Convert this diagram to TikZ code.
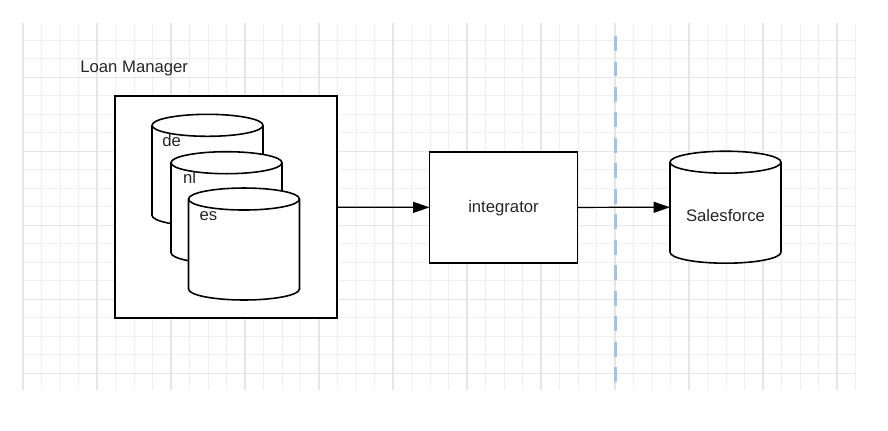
\documentclass[tikz,border=0pt]{standalone}
\usepackage{fontspec}
\setmainfont{Liberation Sans}
\usetikzlibrary{arrows.meta, positioning}

\definecolor{gridlight}{HTML}{F0F0F0}
\definecolor{griddark}{HTML}{E6E6E6}
\definecolor{sepblue}{HTML}{9FC4E7}
\definecolor{inktext}{HTML}{262626}

% outline of a database drum over a named node
\newcommand{\drawdb}[1]{%
    \path[fill=white, draw, line width=0.9pt]
        ([yshift=-0.22cm]#1.north west) -- ([yshift=0.22cm]#1.south west)
        arc[start angle=180, end angle=360, x radius=1.11cm, y radius=0.22cm]
        -- ([yshift=-0.22cm]#1.north east)
        arc[start angle=0, end angle=180, x radius=1.11cm, y radius=0.22cm] -- cycle;
    \draw[line width=0.9pt] ([yshift=-0.22cm]#1.north west)
        arc[start angle=180, end angle=360, x radius=1.11cm, y radius=0.22cm];}

\begin{document}
\begin{tikzpicture}[x=0.02cm, y=-0.02cm,
    gridminor/.style={gridlight, line width=0.5pt},
    gridmajor/.style={griddark, line width=0.7pt},
    dbcyl/.style={rectangle, minimum width=2.22cm, minimum height=2.24cm, inner sep=0pt, outer sep=0pt},
    procbox/.style={rectangle, draw, fill=white, line width=1pt, inner sep=0pt, outer sep=0pt},
    plainlbl/.style={font=\fontsize{9.5}{11}\selectfont, text=inktext, inner sep=0pt},
    flowarrow/.style={line width=0.7pt, -{Triangle[length=0.33cm, width=0.22cm]}},
    zonesep/.style={sepblue, line width=1.7pt, dash pattern=on 0.3cm off 0.21cm}]
    \useasboundingbox (0,0) rectangle (888,430);

    % grid paper
    \foreach \i in {0,...,45}
        \draw[gridminor] ({23+18.5*\i},23) -- ({23+18.5*\i},390);
    \foreach \k in {-2,...,16}
        \draw[gridminor] (23,{77.3+18.5*\k}) -- (855,{77.3+18.5*\k});
    \foreach \i in {0,...,11}
        \draw[gridmajor] ({23+74*\i},23) -- ({23+74*\i},390);
    \foreach \k in {0,...,4}
        \draw[gridmajor] (23,{77.3+74*\k}) -- (855,{77.3+74*\k});

    % Loan Manager with its three stores
    \node[plainlbl, anchor=base west] (lmtitle) at (80,72.3) {Loan Manager};
    \node[procbox, minimum width=4.44cm, minimum height=4.44cm] (lm) at (226,207) {};
    \node[dbcyl] (de) at (207.5,170.3) {};
    \drawdb{de}
    \node[plainlbl, anchor=base west] (delbl) at (162,146) {de};
    \node[dbcyl] (nl) at (226.5,207.7) {};
    \drawdb{nl}
    \node[plainlbl, anchor=base west] (nllbl) at (182.7,183) {nl};
    \node[dbcyl] (es) at (244,244) {};
    \drawdb{es}
    \node[plainlbl, anchor=base west] (eslbl) at (199.3,220) {es};

    % integrator
    \node[procbox, plainlbl, minimum width=2.96cm, minimum height=2.21cm, text depth=0.25ex] (integ) at (503.5,207.5) {integrator};
    \draw[flowarrow] (lm) -- (integ);

    % boundary
    \coordinate (septop) at (615,36);
    \coordinate (sepbot) at (615,386);
    \draw[zonesep] (septop) -- (sepbot);

    % Salesforce
    \node[dbcyl] (sf) at (725.5,207.2) {};
    \drawdb{sf}
    \node[plainlbl, anchor=base] (sflbl) at (725.5,221.7) {Salesforce};
    \draw[flowarrow] (integ) -- (sf);
\end{tikzpicture}
\end{document}
